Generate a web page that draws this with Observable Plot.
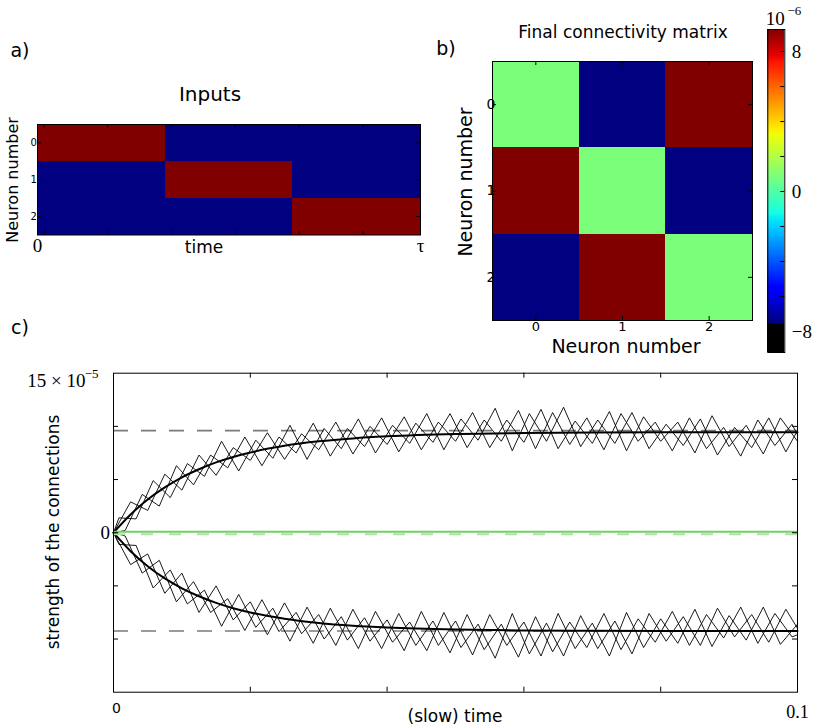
<!DOCTYPE html>
<html><head><meta charset="utf-8">
<script src="https://cdn.jsdelivr.net/npm/d3@7"></script>
<script src="https://cdn.jsdelivr.net/npm/@observablehq/plot@0.6"></script>
<style>
html,body{margin:0;padding:0;background:#fff;}
#root{position:relative;width:815px;height:727px;overflow:hidden;font-family:"DejaVu Sans",sans-serif;}
.lbl{position:absolute;white-space:nowrap;color:#000;line-height:1;}
</style></head><body><div id="root"></div>
<script>
// ---------- data ----------
const neurons = [0, 1, 2];
// inputs: row = neuron, column = phase of the period tau (1 = active)
const inputPattern = [[1,0,0],[0,1,0],[0,0,1]];
const inputTimeTicks = [0.05, 0.55, 1.05, 1.55, 2.05, 2.55];
const inputTimeLabels = [{t: 0, label: "0"}, {t: 3, label: "τ"}];

// final connectivity matrix (×1e-6)
const connectivity = [[0.86, -7.54, 9.26], [9.26, 0.86, -7.54], [-7.54, 9.26, 0.86]];
const cbarDomain = [-7.54, 9.26];
const cbarUnder = -9.2;
const cbarTicks = [-6, -4, -2, 0, 2, 4, 6, 8];
const cbarLabels = [8, 0, -8];

// panel c (values ×1e-5)
const tA = [0,0.0025,0.005,0.0075,0.01,0.0125,0.015,0.0175,0.02,0.0225,0.025,0.0275,0.03,0.0325,0.035,0.0375,0.04,0.0425,0.045,0.0475,0.05,0.0525,0.055,0.0575,0.06,0.0625,0.065,0.0675,0.07,0.0725,0.075,0.0775,0.08,0.0825,0.085,0.0875,0.09,0.0925,0.095,0.0975,0.1];
const tB = [0,0.0008,0.0033,0.0058,0.0083,0.0108,0.0133,0.0158,0.0183,0.0208,0.0233,0.0258,0.0283,0.0308,0.0333,0.0358,0.0383,0.0408,0.0433,0.0458,0.0483,0.0508,0.0533,0.0558,0.0583,0.0608,0.0633,0.0658,0.0683,0.0708,0.0733,0.0758,0.0783,0.0808,0.0833,0.0858,0.0883,0.0908,0.0933,0.0958,0.0983,0.1];
const tC = [0,0.0017,0.0042,0.0067,0.0092,0.0117,0.0142,0.0167,0.0192,0.0217,0.0242,0.0267,0.0292,0.0317,0.0342,0.0367,0.0392,0.0417,0.0442,0.0467,0.0492,0.0517,0.0542,0.0567,0.0592,0.0617,0.0642,0.0667,0.0692,0.0717,0.0742,0.0767,0.0792,0.0817,0.0842,0.0867,0.0892,0.0917,0.0942,0.0967,0.0992,0.1];
const upA = [0,2.9,2.1,5.5,4.0,7.3,5.4,8.0,6.8,9.4,6.9,9.3,7.8,10.4,7.4,10.0,8.3,10.9,7.8,10.4,8.6,11.3,8.0,10.6,8.5,11.6,7.9,10.5,8.4,11.4,7.7,10.9,8.6,10.4,7.5,11.0,8.1,10.1,7.4,10.8,8.6];
const upB = [0,1.4,1.3,4.9,3.3,6.5,5.3,8.6,5.8,8.7,7.0,10.1,6.9,9.8,7.9,10.7,7.5,10.1,8.4,11.2,7.8,10.7,8.7,11.7,7.7,11.2,8.6,11.8,8.1,10.6,8.4,11.3,7.9,10.2,8.2,10.7,7.3,9.9,8.0,10.8,7.6,9.6];
const upC = [0,0.2,3.6,2.5,6.3,4.5,7.3,6.1,9.0,6.3,9.0,7.5,10.3,7.2,9.8,8.1,10.8,7.6,10.3,8.5,11.2,8.0,10.6,8.6,11.5,7.9,11.3,8.3,10.8,7.8,11.2,8.6,10.4,7.7,10.8,7.9,9.9,7.2,10.6,8.2,10.2,9.2];
const downA = [0,-3.0,-2.0,-5.7,-3.8,-7.5,-5.0,-8.2,-6.5,-9.6,-6.6,-9.5,-7.7,-10.6,-7.2,-10.2,-8.2,-11.1,-7.4,-10.6,-8.3,-11.5,-7.7,-10.6,-8.4,-11.6,-7.6,-10.9,-8.5,-11.6,-7.5,-10.8,-8.1,-10.4,-7.2,-10.7,-7.8,-10.1,-7.0,-10.5,-8.6];
const downB = [0,-1.1,-1.2,-5.2,-3.5,-6.7,-5.4,-8.8,-5.8,-8.9,-7.1,-10.2,-7.0,-10.0,-7.9,-10.9,-7.4,-10.3,-8.4,-11.1,-7.5,-10.8,-8.6,-11.8,-7.6,-11.4,-8.5,-11.6,-7.8,-10.9,-8.3,-11.4,-7.6,-10.2,-7.9,-10.6,-7.1,-9.8,-7.7,-10.3,-7.2,-9.0];
const downC = [0,-0.3,-3.8,-2.6,-6.5,-4.6,-7.5,-6.2,-9.2,-6.3,-9.3,-7.5,-10.4,-7.1,-10.1,-8.0,-10.9,-7.6,-10.6,-8.3,-11.3,-7.7,-11.0,-8.6,-11.7,-7.9,-11.2,-8.4,-10.8,-7.6,-11.0,-8.1,-10.3,-7.4,-10.6,-7.7,-9.9,-7.0,-10.4,-7.6,-9.8,-9.6];
const meanTimes = [0,0.0025,0.005,0.0075,0.01,0.0125,0.015,0.0175,0.02,0.025,0.03,0.035,0.04,0.05,0.06,0.07,0.08,0.09,0.1];
const meanUp = [0,1.71,3.12,4.26,5.21,5.97,6.61,7.12,7.54,8.17,8.59,8.87,9.06,9.28,9.37,9.42,9.44,9.45,9.45];
const meanDown = [0,-1.74,-3.15,-4.30,-5.23,-5.98,-6.60,-7.10,-7.50,-8.09,-8.49,-8.75,-8.92,-9.11,-9.19,-9.22,-9.24,-9.25,-9.25];
const upperTarget = 9.6, lowerTarget = -9.25;
const diagLevel = 0.1, diagTarget = -0.15;
const slowTicks = [0.02, 0.04, 0.06, 0.08];
const strengthTicks = [-10, -5, 0, 5, 10];

// ---------- helpers ----------
const jr = d3.scaleLinear().domain([0,0.35,0.66,0.89,1]).range([0,0,1,1,0.5]).clamp(true);
const jg = d3.scaleLinear().domain([0,0.125,0.375,0.64,0.91,1]).range([0,0,1,1,0,0]).clamp(true);
const jb = d3.scaleLinear().domain([0,0.11,0.34,0.65,1]).range([0.5,1,1,0,0]).clamp(true);
const jet = t => d3.rgb(255*jr(t), 255*jg(t), 255*jb(t)).formatHex();

const SERIF = "Liberation Serif, DejaVu Serif, serif";
const SANS = "DejaVu Sans, sans-serif";
const root = document.getElementById("root");
function place(node, left, top) {
  node.style.position = "absolute"; node.style.left = left + "px"; node.style.top = top + "px";
  root.appendChild(node);
}
function label(html, cx, cy, size, opts = {}) {
  const d = document.createElement("div");
  d.className = "lbl"; d.innerHTML = html;
  d.style.left = cx + "px"; d.style.top = cy + "px"; d.style.fontSize = size + "px";
  d.style.fontFamily = opts.serif ? SERIF : SANS;
  d.style.transform = `translate(-50%,-50%) rotate(${opts.rotate || 0}deg)`;
  root.appendChild(d);
}
const baseStyle = {background: "transparent", fontFamily: SANS, overflow: "visible"};
function ticksX(vals, H, len) {
  return [Plot.tickX(vals, {x: d => d, insetTop: H - len, stroke: "#000"}),
          Plot.tickX(vals, {x: d => d, insetBottom: H - len, stroke: "#000"})];
}
function ticksY(vals, W, len) {
  return [Plot.tickY(vals, {y: d => d, insetLeft: W - len, stroke: "#000"}),
          Plot.tickY(vals, {y: d => d, insetRight: W - len, stroke: "#000"})];
}

// ---------- panel a ----------
const inputCells = neurons.flatMap(n => inputPattern[n].map((v, p) => ({neuron: n, phase: p, on: v})));
{
  const W = 383, H = 110.5;
  const p = Plot.plot({
    width: 430, height: 160, marginLeft: 37, marginRight: 10, marginTop: 24, marginBottom: 25.5,
    x: {domain: [0, 3], axis: null},
    y: {domain: [0, 3], reverse: true, axis: null},
    color: {type: "linear", domain: [0, 1], interpolate: jet},
    style: baseStyle,
    marks: [
      Plot.rect(inputCells, {x1: "phase", x2: d => d.phase + 1, y1: "neuron", y2: d => d.neuron + 1, fill: "on", shapeRendering: "crispEdges"}),
      Plot.frame({stroke: "#000"}),
      ...ticksX(inputTimeTicks, H, 4),
      ...ticksY(neurons.map(n => n + 0.5), W, 4),
      Plot.text(neurons, {y: d => d + 0.5, text: d => String(d), frameAnchor: "left", dx: -7, fontSize: 10}),
      Plot.text(inputTimeLabels, {x: "t", text: "label", frameAnchor: "bottom", lineAnchor: "middle", dy: 10.5, fontSize: 19,
        fontFamily: SERIF, fontStyle: d => d.label === "τ" ? "italic" : "normal",
        textAnchor: d => d.t === 0 ? "start" : "end"})
    ]
  });
  place(p, 0, 100);
}
label("a)", 20, 50, 19);
label("Inputs", 210, 94, 20);
label("time", 204, 247, 17);
label("Neuron number", 13, 180, 16, {rotate: -90});

// ---------- panel b ----------
const connCells = neurons.flatMap(r => neurons.map(c => ({row: r, col: c, value: connectivity[r][c]})));
{
  const W = 260, H = 259;
  const p = Plot.plot({
    width: 330, height: 360, marginLeft: 52, marginRight: 18, marginTop: 61, marginBottom: 40,
    x: {domain: [-0.5, 2.5], axis: null},
    y: {domain: [-0.5, 2.5], reverse: true, axis: null},
    color: {type: "linear", domain: cbarDomain, interpolate: jet},
    style: baseStyle,
    marks: [
      Plot.rect(connCells, {x1: d => d.col - 0.5, x2: d => d.col + 0.5, y1: d => d.row - 0.5, y2: d => d.row + 0.5, fill: "value", shapeRendering: "crispEdges"}),
      Plot.frame({stroke: "#000"}),
      ...ticksX(neurons, H, 4),
      ...ticksY(neurons, W, 4),
      Plot.text(neurons, {x: d => d, text: d => String(d), frameAnchor: "bottom", lineAnchor: "middle", dy: 6, fontSize: 13}),
      Plot.text(neurons, {y: d => d, text: d => String(d), frameAnchor: "left", dx: -6, fontSize: 14})
    ]
  });
  place(p, 440, 0);
}
label("b)", 446, 48, 19);
label("Final connectivity matrix", 623, 32, 17);
label("Neuron number", 626, 346, 19);
label("Neuron number", 465, 182, 19, {rotate: -90});

// ---------- colorbar ----------
{
  const steps = d3.range(cbarDomain[0], cbarDomain[1], 0.05);
  const p = Plot.plot({
    width: 55, height: 340, marginLeft: 7.3, marginRight: 30.7, marginTop: 9, marginBottom: 8,
    x: {domain: [0, 1], axis: null},
    y: {domain: [cbarUnder, cbarDomain[1]], axis: null},
    color: {type: "linear", domain: cbarDomain, interpolate: jet},
    style: baseStyle,
    marks: [
      Plot.rect(steps, {x1: 0, x2: 1, y1: d => d, y2: d => Math.min(d + 0.07, cbarDomain[1]), fill: d => d + 0.025, shapeRendering: "crispEdges"}),
      Plot.rect([cbarUnder], {x1: 0, x2: 1, y1: cbarUnder, y2: cbarDomain[0], fill: "black", shapeRendering: "crispEdges"}),
      Plot.frame({stroke: "#000"}),
      Plot.tickY(cbarTicks, {y: d => d, insetLeft: 13, stroke: "#000"}),
      Plot.text(cbarLabels, {y: d => d, text: d => d < 0 ? "−" + (-d) : String(d), frameAnchor: "right", dx: 7,
        textAnchor: "start", fontSize: 19, fontFamily: SERIF}),
      Plot.text(["10"], {text: d => d, frameAnchor: "top", lineAnchor: "middle", dy: -11, dx: -1, fontSize: 19, fontFamily: SERIF}),
      Plot.text(["−6"], {text: d => d, frameAnchor: "top", lineAnchor: "middle", dy: -19, dx: 18, fontSize: 13, fontFamily: SERIF})
    ]
  });
  place(p, 760, 20);
}

// ---------- panel c ----------
const toPts = (ts, ws) => ts.map((t, i) => ({t, w: ws[i]}));
{
  const W = 684, H = 319;
  const traces = [[tA, upA], [tB, upB], [tC, upC], [tA, downA], [tB, downB], [tC, downC]];
  const p = Plot.plot({
    width: 815, height: 377, marginLeft: 113, marginRight: 18, marginTop: 22.7, marginBottom: 35.3,
    x: {domain: [0, 0.1], axis: null},
    y: {domain: [-15, 15], axis: null},
    style: baseStyle,
    marks: [
      Plot.ruleY([upperTarget, lowerTarget], {stroke: "#7a7a7a", strokeWidth: 1.6, strokeDasharray: "15,13"}),
      ...traces.map(([ts, ws]) => Plot.line(toPts(ts, ws), {x: "t", y: "w", stroke: "#000", strokeWidth: 0.9})),
      Plot.line(toPts(meanTimes, meanUp), {x: "t", y: "w", stroke: "#000", strokeWidth: 2, curve: "monotone-x"}),
      Plot.line(toPts(meanTimes, meanDown), {x: "t", y: "w", stroke: "#000", strokeWidth: 2, curve: "monotone-x"}),
      Plot.ruleY([diagLevel], {stroke: "#72d063", strokeWidth: 2}),
      Plot.ruleY([diagTarget], {stroke: "#a9e4a0", strokeWidth: 2, strokeDasharray: "12,16"}),
      Plot.frame({stroke: "#000"}),
      ...ticksX(slowTicks, H, 5),
      ...ticksY(strengthTicks, W, 5),
      Plot.text([0], {x: d => d, text: () => "0", frameAnchor: "bottom", lineAnchor: "middle", dx: 3, dy: 16, fontSize: 14}),
      Plot.text([0.1], {x: d => d, text: () => "0.1", frameAnchor: "bottom", lineAnchor: "middle", dy: 20, fontSize: 18, fontFamily: SERIF}),
      Plot.text([0], {y: d => d, text: () => "0", frameAnchor: "left", dx: -13, fontSize: 19, fontFamily: SERIF}),
      Plot.text([15], {y: d => d, text: () => "15 × 10", frameAnchor: "left", dx: -28, dy: 8, textAnchor: "end", fontSize: 19, fontFamily: SERIF}),
      Plot.text([15], {y: d => d, text: () => "−5", frameAnchor: "left", dx: -15, dy: 1, textAnchor: "end", fontSize: 13, fontFamily: SERIF})
    ]
  });
  place(p, 0, 350);
}
label("c)", 20, 327, 19);
label("strength of the connections", 53, 532, 17, {rotate: -90});
label("(slow) time", 455, 716, 17);
</script></body></html>
